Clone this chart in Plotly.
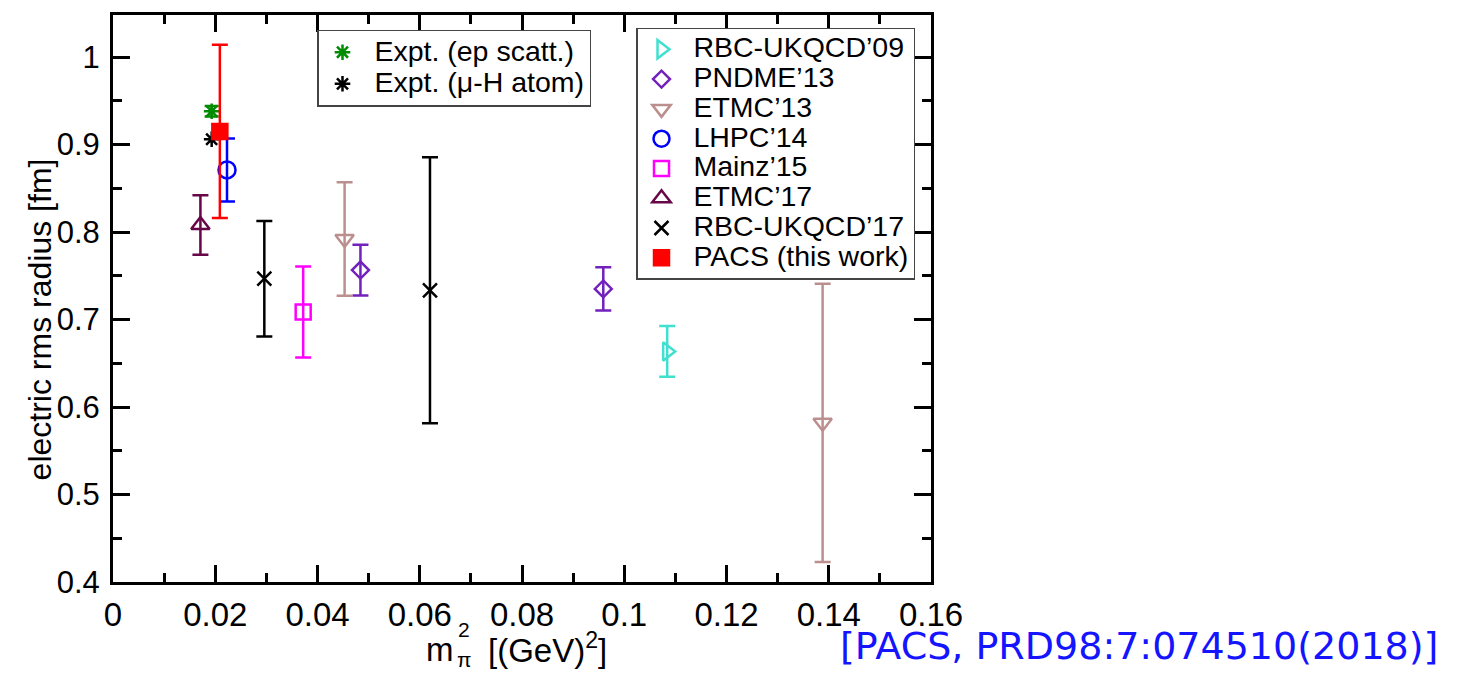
import plotly.graph_objects as go

# ---------------- data ----------------
ep_x = [0.0193]; ep_y = [0.938]; ep_err = [0.006]
muh_x = [0.0193]; muh_y = [0.906]; muh_err = [0.0]
rbc09_x = [0.1084]; rbc09_y = [0.6635]; rbc09_err = [0.029]
pndme_x = [0.0484, 0.0959]; pndme_y = [0.7565, 0.735]; pndme_err = [0.029, 0.0246]
etmc13_x = [0.0453, 0.1388]; etmc13_y = [0.792, 0.582]; etmc13_err = [0.065, 0.159]
lhpc_x = [0.0223]; lhpc_y = [0.871]; lhpc_err = [0.036]
mainz_x = [0.0372]; mainz_y = [0.7087]; mainz_err = [0.052]
etmc17_x = [0.0171]; etmc17_y = [0.808]; etmc17_err = [0.034]
rbc17_x = [0.0296, 0.0620]; rbc17_y = [0.7466, 0.7333]; rbc17_err = [0.066, 0.152]
pacs_x = [0.0209]; pacs_y = [0.915]; pacs_err = [0.099]

x_ticks = [0, 0.02, 0.04, 0.06, 0.08, 0.1, 0.12, 0.14, 0.16]
x_ticklabels = ["0", "0.02", "0.04", "0.06", "0.08", "0.1", "0.12", "0.14", "0.16"]
y_ticks = [0.4, 0.5, 0.6, 0.7, 0.8, 0.9, 1.0]
y_ticklabels = ["0.4", "0.5", "0.6", "0.7", "0.8", "0.9", "1"]

FONT = "Liberation Sans, Arial, Helvetica, sans-serif"
NB = "\u00a0"

series = [
    # name, x, y, err, color, symbol, size, legend, errwidth, textsize
    ("Expt. (ep scatt.)", ep_x, ep_y, ep_err, "rgb(0,139,0)", "asterisk-open", 13, "legend", 7, 28.5),
    ("Expt. (\u03bc-H atom)", muh_x, muh_y, muh_err, "black", "asterisk-open", 13, "legend", 0, 28.5),
    ("RBC-UKQCD\u201909", rbc09_x, rbc09_y, rbc09_err, "rgb(64,224,208)", "triangle-right-open", 16, "legend2", 8, 28.5),
    ("PNDME\u201913", pndme_x, pndme_y, pndme_err, "rgb(114,33,188)", "diamond-open", 13, "legend2", 8, 28.5),
    ("ETMC\u201913", etmc13_x, etmc13_y, etmc13_err, "rgb(188,143,143)", "triangle-down-open", 16, "legend2", 8, 28.5),
    ("LHPC\u201914", lhpc_x, lhpc_y, lhpc_err, "rgb(0,0,255)", "circle-open", 17, "legend2", 8, 28.5),
    ("Mainz\u201915", mainz_x, mainz_y, mainz_err, "rgb(255,0,255)", "square-open", 15, "legend2", 8, 28.5),
    ("ETMC\u201917", etmc17_x, etmc17_y, etmc17_err, "rgb(103,7,72)", "triangle-up-open", 16, "legend2", 8, 28.5),
    ("RBC-UKQCD\u201917", rbc17_x, rbc17_y, rbc17_err, "black", "x-thin-open", 14, "legend2", 8, 28.5),
    ("PACS (this work)", pacs_x, pacs_y, pacs_err, "rgb(255,0,0)", "square", 15, "legend2", 8, 28.5),
]

fig = go.Figure()
for name, xs, ys, errs, col, sym, size, leg, ew, ts in series:
    fig.add_trace(go.Scatter(
        x=xs, y=ys, mode="markers",
        name=f"<span style='font-size:{ts}px'>{NB}{name}</span>",
        legend=leg,
        marker=dict(symbol=sym, size=size, color=col, line=dict(color=col, width=2.5)),
        error_y=dict(type="data", array=errs, visible=True, color=col, thickness=2.5, width=ew),
    ))

W, H = 1465, 675
L, R, T, B = 113, 534, 12, 93
pw, ph = W - L - R, H - T - B


def px2x(px):
    return (px - L) / pw


def px2y(py):
    return (H - B - py) / ph


axis_common = dict(
    showline=True, linecolor="black", linewidth=3, mirror="allticks",
    ticks="inside", ticklen=17, tickwidth=2.5, tickcolor="black",
    showgrid=False, zeroline=False,
)

fig.update_layout(
    width=W, height=H,
    margin=dict(l=L, r=R, t=T, b=B, pad=0),
    paper_bgcolor="white", plot_bgcolor="white",
    font=dict(family=FONT, color="black"),
    xaxis=dict(range=[0, 0.16], tickvals=x_ticks, ticktext=x_ticklabels,
               minor=dict(ticks="inside", ticklen=9, tickwidth=2.5, dtick=0.01, tickcolor="black", showgrid=False),
               ticklabelstandoff=1, tickfont=dict(family=FONT, size=33, color="black"), **axis_common),
    yaxis=dict(range=[0.4, 1.048], tickvals=y_ticks, ticktext=y_ticklabels,
               minor=dict(ticks="inside", ticklen=9, tickwidth=2.5, dtick=0.05, tickcolor="black", showgrid=False),
               ticklabelstandoff=4, tickfont=dict(family=FONT, size=31, color="black"), **axis_common),
    legend=dict(x=px2x(317), y=px2y(27), xanchor="left", yanchor="top",
                bgcolor="white", bordercolor="#444", borderwidth=1.5, itemwidth=38,
                font=dict(family=FONT, size=22, color="black")),
    legend2=dict(x=px2x(636), y=px2y(25), xanchor="left", yanchor="top",
                 bgcolor="white", bordercolor="#444", borderwidth=1.5, itemwidth=38,
                 font=dict(family=FONT, size=20.6, color="black")),
    showlegend=True,
)

# axis titles
fig.add_annotation(text="electric rms radius [fm]", textangle=-90, xref="paper", yref="paper",
                   x=px2x(40), y=px2y(318), xanchor="center", yanchor="middle", showarrow=False,
                   font=dict(family=FONT, size=32, color="black"))
fig.add_annotation(text="m", xref="paper", yref="paper", x=px2x(424), y=px2y(650),
                   xanchor="left", yanchor="middle", showarrow=False,
                   font=dict(family=FONT, size=33, color="black"))
fig.add_annotation(text="2", xref="paper", yref="paper", x=px2x(456), y=px2y(630),
                   xanchor="left", yanchor="middle", showarrow=False,
                   font=dict(family=FONT, size=21, color="black"))
fig.add_annotation(text="\u03c0", xref="paper", yref="paper", x=px2x(455), y=px2y(660),
                   xanchor="left", yanchor="middle", showarrow=False,
                   font=dict(family=FONT, size=21, color="black"))
fig.add_annotation(text="[(GeV)<sup>2</sup>]", xref="paper", yref="paper", x=px2x(486), y=px2y(648),
                   xanchor="left", yanchor="middle", showarrow=False,
                   font=dict(family=FONT, size=33, color="black"))
# citation
fig.add_annotation(text="[PACS, PRD98:7:074510(2018)]", xref="paper", yref="paper",
                   x=px2x(838), y=px2y(646), xanchor="left", yanchor="middle", showarrow=False,
                   font=dict(family="DejaVu Sans", size=38, color="rgb(20,20,255)"))

fig.write_html("out.html")
